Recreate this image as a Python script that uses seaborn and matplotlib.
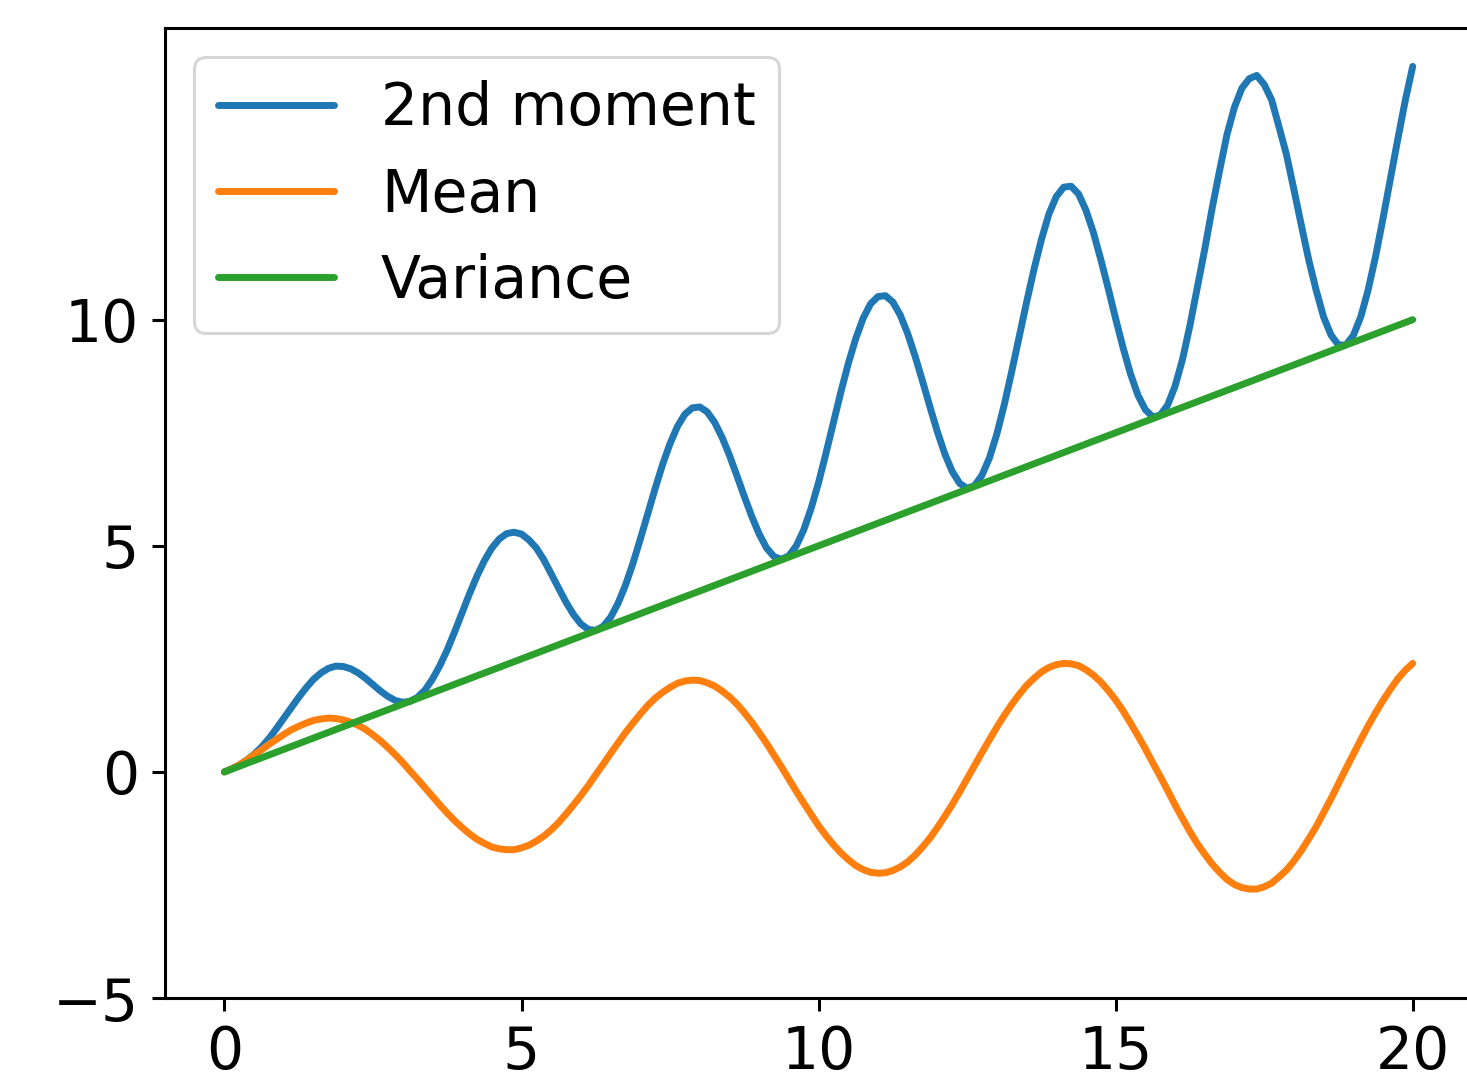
import matplotlib
matplotlib.use("Agg")
import matplotlib.pyplot as plt
import seaborn as sns
import pandas as pd

# time grid (step 0.125) and values
t = [0.0, 0.125, 0.25, 0.375, 0.5, 0.625, 0.75, 0.875,
     1.0, 1.125, 1.25, 1.375, 1.5, 1.625, 1.75, 1.875,
     2.0, 2.125, 2.25, 2.375, 2.5, 2.625, 2.75, 2.875,
     3.0, 3.125, 3.25, 3.375, 3.5, 3.625, 3.75, 3.875,
     4.0, 4.125, 4.25, 4.375, 4.5, 4.625, 4.75, 4.875,
     5.0, 5.125, 5.25, 5.375, 5.5, 5.625, 5.75, 5.875,
     6.0, 6.125, 6.25, 6.375, 6.5, 6.625, 6.75, 6.875,
     7.0, 7.125, 7.25, 7.375, 7.5, 7.625, 7.75, 7.875,
     8.0, 8.125, 8.25, 8.375, 8.5, 8.625, 8.75, 8.875,
     9.0, 9.125, 9.25, 9.375, 9.5, 9.625, 9.75, 9.875,
     10.0, 10.125, 10.25, 10.375, 10.5, 10.625, 10.75, 10.875,
     11.0, 11.125, 11.25, 11.375, 11.5, 11.625, 11.75, 11.875,
     12.0, 12.125, 12.25, 12.375, 12.5, 12.625, 12.75, 12.875,
     13.0, 13.125, 13.25, 13.375, 13.5, 13.625, 13.75, 13.875,
     14.0, 14.125, 14.25, 14.375, 14.5, 14.625, 14.75, 14.875,
     15.0, 15.125, 15.25, 15.375, 15.5, 15.625, 15.75, 15.875,
     16.0, 16.125, 16.25, 16.375, 16.5, 16.625, 16.75, 16.875,
     17.0, 17.125, 17.25, 17.375, 17.5, 17.625, 17.75, 17.875,
     18.0, 18.125, 18.25, 18.375, 18.5, 18.625, 18.75, 18.875,
     19.0, 19.125, 19.25, 19.375, 19.5, 19.625, 19.75, 19.875,
     20.0]

mean_vals = [0.00, 0.07, 0.16, 0.26, 0.38, 0.49, 0.61, 0.72,
             0.83, 0.93, 1.01, 1.08, 1.14, 1.17, 1.19, 1.18,
             1.15, 1.10, 1.03, 0.94, 0.82, 0.69, 0.54, 0.38,
             0.21, 0.02, -0.16, -0.35, -0.54, -0.73, -0.91, -1.08,
             -1.23, -1.37, -1.49, -1.58, -1.66, -1.70, -1.72, -1.72,
             -1.68, -1.62, -1.53, -1.42, -1.28, -1.12, -0.93, -0.73,
             -0.52, -0.30, -0.06, 0.17, 0.41, 0.64, 0.87, 1.08,
             1.28, 1.47, 1.63, 1.76, 1.87, 1.96, 2.01, 2.03,
             2.02, 1.97, 1.90, 1.79, 1.66, 1.50, 1.31, 1.10,
             0.87, 0.63, 0.37, 0.11, -0.16, -0.43, -0.69, -0.94,
             -1.19, -1.41, -1.61, -1.79, -1.94, -2.07, -2.16, -2.22,
             -2.24, -2.23, -2.18, -2.10, -1.99, -1.84, -1.66, -1.46,
             -1.23, -0.98, -0.72, -0.44, -0.15, 0.14, 0.43, 0.71,
             0.99, 1.25, 1.49, 1.71, 1.91, 2.07, 2.21, 2.31,
             2.37, 2.40, 2.39, 2.35, 2.26, 2.14, 1.99, 1.80,
             1.59, 1.35, 1.08, 0.80, 0.51, 0.20, -0.10, -0.41,
             -0.73, -1.03, -1.32, -1.59, -1.82, -2.04, -2.22, -2.38,
             -2.49, -2.56, -2.59, -2.59, -2.54, -2.46, -2.32, -2.17,
             -1.97, -1.74, -1.48, -1.21, -0.90, -0.59, -0.26, 0.07,
             0.39, 0.71, 1.02, 1.31, 1.58, 1.83, 2.06, 2.25,
             2.40]

second_moment = [0.00, 0.07, 0.15, 0.26, 0.39, 0.55, 0.74, 0.96,
                 1.19, 1.42, 1.65, 1.86, 2.05, 2.19, 2.29, 2.34,
                 2.33, 2.28, 2.19, 2.07, 1.93, 1.79, 1.67, 1.58,
                 1.54, 1.56, 1.65, 1.81, 2.05, 2.35, 2.70, 3.10,
                 3.52, 3.94, 4.33, 4.67, 4.95, 5.15, 5.27, 5.30,
                 5.26, 5.13, 4.95, 4.69, 4.38, 4.06, 3.75, 3.48,
                 3.27, 3.15, 3.13, 3.22, 3.42, 3.73, 4.13, 4.61,
                 5.15, 5.71, 6.27, 6.80, 7.26, 7.64, 7.91, 8.05,
                 8.07, 7.96, 7.73, 7.40, 7.00, 6.55, 6.09, 5.65,
                 5.26, 4.95, 4.76, 4.70, 4.78, 5.00, 5.35, 5.83,
                 6.40, 7.05, 7.72, 8.40, 9.03, 9.58, 10.03, 10.35,
                 10.51, 10.53, 10.39, 10.10, 9.69, 9.19, 8.64, 8.07,
                 7.52, 7.03, 6.64, 6.38, 6.27, 6.33, 6.56, 6.94,
                 7.47, 8.12, 8.85, 9.62, 10.38, 11.11, 11.77, 12.33,
                 12.72, 12.93, 12.95, 12.78, 12.42, 11.93, 11.33, 10.69,
                 10.02, 9.38, 8.80, 8.33, 8.01, 7.85, 7.89, 8.11,
                 8.53, 9.12, 9.87, 10.72, 11.56, 12.47, 13.30, 14.10,
                 14.70, 15.12, 15.33, 15.40, 15.20, 14.86, 14.26, 13.65,
                 12.88, 12.09, 11.32, 10.65, 10.06, 9.66, 9.44, 9.44,
                 9.65, 10.06, 10.66, 11.40, 12.24, 13.12, 14.00, 14.85,
                 15.60]

var_t = [0.0, 20.0]
var_vals = [0.0, 10.0]

labels = ["2nd moment", "Mean", "Variance"]
colors = ["#1f77b4", "#ff7f0e", "#2ca02c"]

sns.set_style("ticks")
plt.rcParams["font.family"] = ["DejaVu Sans"]
plt.rcParams["text.color"] = "black"
plt.rcParams["axes.unicode_minus"] = True

fig = plt.figure(figsize=(14.67, 10.84), dpi=100)
ax = fig.add_axes([0.1125, 0.0793, 0.891, 0.8949])

df_m2 = pd.DataFrame({"t": t, "value": second_moment})
df_mean = pd.DataFrame({"t": t, "value": mean_vals})
df_var = pd.DataFrame({"t": var_t, "value": var_vals})

lw = 5.0
sns.lineplot(data=df_m2, x="t", y="value", color=colors[0], lw=lw, label=labels[0], ax=ax)
sns.lineplot(data=df_mean, x="t", y="value", color=colors[1], lw=lw, label=labels[1], ax=ax)
sns.lineplot(data=df_var, x="t", y="value", color=colors[2], lw=lw, label=labels[2], ax=ax)

ax.set_xlim(-1, 21)
ax.set_ylim(-5, 16.45)
ax.set_xticks([0, 5, 10, 15, 20])
ax.set_yticks([-5, 0, 5, 10])
ax.set_xlabel("")
ax.set_ylabel("")

for side in ax.spines.values():
    side.set_linewidth(2.2)
    side.set_edgecolor("black")
ax.tick_params(axis="both", which="major", labelsize=42, length=9.4,
               width=2.2, pad=9.4, color="black", labelcolor="black", direction="out")

leg = ax.legend(loc="upper left", fontsize=42, frameon=True, fancybox=True,
                framealpha=0.8, edgecolor="#cccccc")
leg.get_frame().set_linewidth(2.2)
for h in leg.get_lines():
    h.set_linewidth(lw)
for txt in leg.get_texts():
    txt.set_color("black")

fig.savefig("out.png", dpi=100)
plt.close(fig)
